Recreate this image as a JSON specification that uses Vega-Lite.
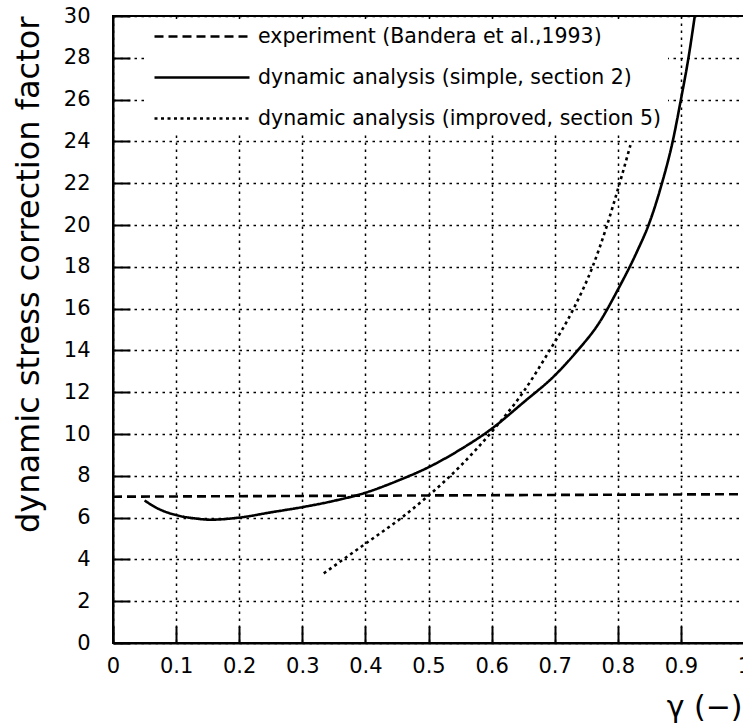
{
  "$schema": "https://vega.github.io/schema/vega-lite/v6.json",
  "width": 631,
  "height": 627,
  "autosize": {"type": "none"},
  "padding": {"left": 113, "top": 16, "right": 0, "bottom": 81},
  "background": "white",
  "config": {
    "view": {"stroke": "black", "strokeWidth": 2},
    "font": "DejaVu Sans"
  },
  "data": {
    "values": [
      {"series": "experiment (Bandera et al.,1993)", "x": 0.0, "y": 7.0},
      {"series": "experiment (Bandera et al.,1993)", "x": 0.5, "y": 7.06},
      {"series": "experiment (Bandera et al.,1993)", "x": 1.0, "y": 7.12},
      {"series": "dynamic analysis (simple, section 2)", "x": 0.05, "y": 6.82},
      {"series": "dynamic analysis (simple, section 2)", "x": 0.07, "y": 6.45},
      {"series": "dynamic analysis (simple, section 2)", "x": 0.1, "y": 6.12},
      {"series": "dynamic analysis (simple, section 2)", "x": 0.13, "y": 5.96},
      {"series": "dynamic analysis (simple, section 2)", "x": 0.155, "y": 5.9},
      {"series": "dynamic analysis (simple, section 2)", "x": 0.2, "y": 6.0},
      {"series": "dynamic analysis (simple, section 2)", "x": 0.25, "y": 6.25},
      {"series": "dynamic analysis (simple, section 2)", "x": 0.3, "y": 6.5},
      {"series": "dynamic analysis (simple, section 2)", "x": 0.344, "y": 6.76},
      {"series": "dynamic analysis (simple, section 2)", "x": 0.4, "y": 7.19},
      {"series": "dynamic analysis (simple, section 2)", "x": 0.45, "y": 7.75},
      {"series": "dynamic analysis (simple, section 2)", "x": 0.5, "y": 8.41},
      {"series": "dynamic analysis (simple, section 2)", "x": 0.55, "y": 9.25},
      {"series": "dynamic analysis (simple, section 2)", "x": 0.6, "y": 10.25},
      {"series": "dynamic analysis (simple, section 2)", "x": 0.65, "y": 11.5},
      {"series": "dynamic analysis (simple, section 2)", "x": 0.7, "y": 12.8},
      {"series": "dynamic analysis (simple, section 2)", "x": 0.735, "y": 13.95},
      {"series": "dynamic analysis (simple, section 2)", "x": 0.77, "y": 15.3},
      {"series": "dynamic analysis (simple, section 2)", "x": 0.8, "y": 16.9},
      {"series": "dynamic analysis (simple, section 2)", "x": 0.83, "y": 18.7},
      {"series": "dynamic analysis (simple, section 2)", "x": 0.85, "y": 20.1},
      {"series": "dynamic analysis (simple, section 2)", "x": 0.87, "y": 22.0},
      {"series": "dynamic analysis (simple, section 2)", "x": 0.887, "y": 24.0},
      {"series": "dynamic analysis (simple, section 2)", "x": 0.9, "y": 26.0},
      {"series": "dynamic analysis (simple, section 2)", "x": 0.912, "y": 28.0},
      {"series": "dynamic analysis (simple, section 2)", "x": 0.922, "y": 30.0},
      {"series": "dynamic analysis (improved, section 5)", "x": 0.334, "y": 3.33},
      {"series": "dynamic analysis (improved, section 5)", "x": 0.365, "y": 4.0},
      {"series": "dynamic analysis (improved, section 5)", "x": 0.4, "y": 4.75},
      {"series": "dynamic analysis (improved, section 5)", "x": 0.4575, "y": 6.0},
      {"series": "dynamic analysis (improved, section 5)", "x": 0.5, "y": 7.05},
      {"series": "dynamic analysis (improved, section 5)", "x": 0.55, "y": 8.45},
      {"series": "dynamic analysis (improved, section 5)", "x": 0.6, "y": 10.1},
      {"series": "dynamic analysis (improved, section 5)", "x": 0.65, "y": 12.0},
      {"series": "dynamic analysis (improved, section 5)", "x": 0.69, "y": 13.9},
      {"series": "dynamic analysis (improved, section 5)", "x": 0.73, "y": 16.0},
      {"series": "dynamic analysis (improved, section 5)", "x": 0.76, "y": 18.0},
      {"series": "dynamic analysis (improved, section 5)", "x": 0.782, "y": 19.9},
      {"series": "dynamic analysis (improved, section 5)", "x": 0.802, "y": 21.9},
      {"series": "dynamic analysis (improved, section 5)", "x": 0.82, "y": 23.82}
    ]
  },
  "mark": {"type": "line", "color": "black", "strokeWidth": 2.6, "interpolate": "monotone"},
  "encoding": {
    "x": {
      "field": "x",
      "type": "quantitative",
      "scale": {"domain": [0, 1], "nice": false, "zero": false},
      "axis": {
        "values": [0, 0.1, 0.2, 0.3, 0.4, 0.5, 0.6, 0.7, 0.8, 0.9, 1],
        "format": "~g",
        "title": "γ (−)",
        "titleFont": "DejaVu Sans",
        "titleFontSize": 30,
        "titleFontWeight": "normal",
        "titleColor": "black",
        "titleX": 629,
        "titleAlign": "right",
        "titlePadding": 16,
        "labelFont": "DejaVu Sans",
        "labelFontSize": 21,
        "labelColor": "black",
        "labelPadding": 29,
        "labelFlush": false,
        "labelOverlap": false,
        "tickSize": -17,
        "tickColor": "black",
        "tickWidth": 2,
        "domainColor": "black",
        "domainWidth": 2,
        "grid": true,
        "gridColor": "black",
        "gridDash": [2.5, 4.5],
        "gridWidth": 1.5,
        "gridOpacity": 1
      }
    },
    "y": {
      "field": "y",
      "type": "quantitative",
      "scale": {"domain": [0, 30], "nice": false},
      "axis": {
        "values": [0, 2, 4, 6, 8, 10, 12, 14, 16, 18, 20, 22, 24, 26, 28, 30],
        "format": "d",
        "title": "dynamic stress correction factor",
        "titleFont": "DejaVu Sans",
        "titleFontSize": 32,
        "titleFontWeight": "normal",
        "titleColor": "black",
        "titleAnchor": "end",
        "titlePadding": 18,
        "labelFont": "DejaVu Sans",
        "labelFontSize": 21,
        "labelColor": "black",
        "labelPadding": 40,
        "labelFlush": false,
        "labelOverlap": false,
        "tickSize": -17,
        "tickColor": "black",
        "tickWidth": 2,
        "domainColor": "black",
        "domainWidth": 2,
        "grid": true,
        "gridColor": "black",
        "gridDash": [2.5, 4.5],
        "gridWidth": 1.5,
        "gridOpacity": 1
      }
    },
    "strokeDash": {
      "field": "series",
      "type": "nominal",
      "scale": {
        "domain": ["experiment (Bandera et al.,1993)", "dynamic analysis (simple, section 2)", "dynamic analysis (improved, section 5)"],
        "range": [[9, 5], [1, 0], [3, 3.5]]
      },
      "legend": {
        "title": null,
        "orient": "none",
        "legendX": 34,
        "legendY": 3,
        "fillColor": "white",
        "padding": 6,
        "symbolType": "M-1,0H8.5",
        "symbolSize": 400,
        "symbolStrokeWidth": 2.6,
        "symbolStrokeColor": "black",
        "symbolFillColor": "transparent",
        "labelFont": "DejaVu Sans",
        "labelFontSize": 20.5,
        "labelColor": "black",
        "labelOffset": 82,
        "labelLimit": 0,
        "rowPadding": 19
      }
    }
  }
}
